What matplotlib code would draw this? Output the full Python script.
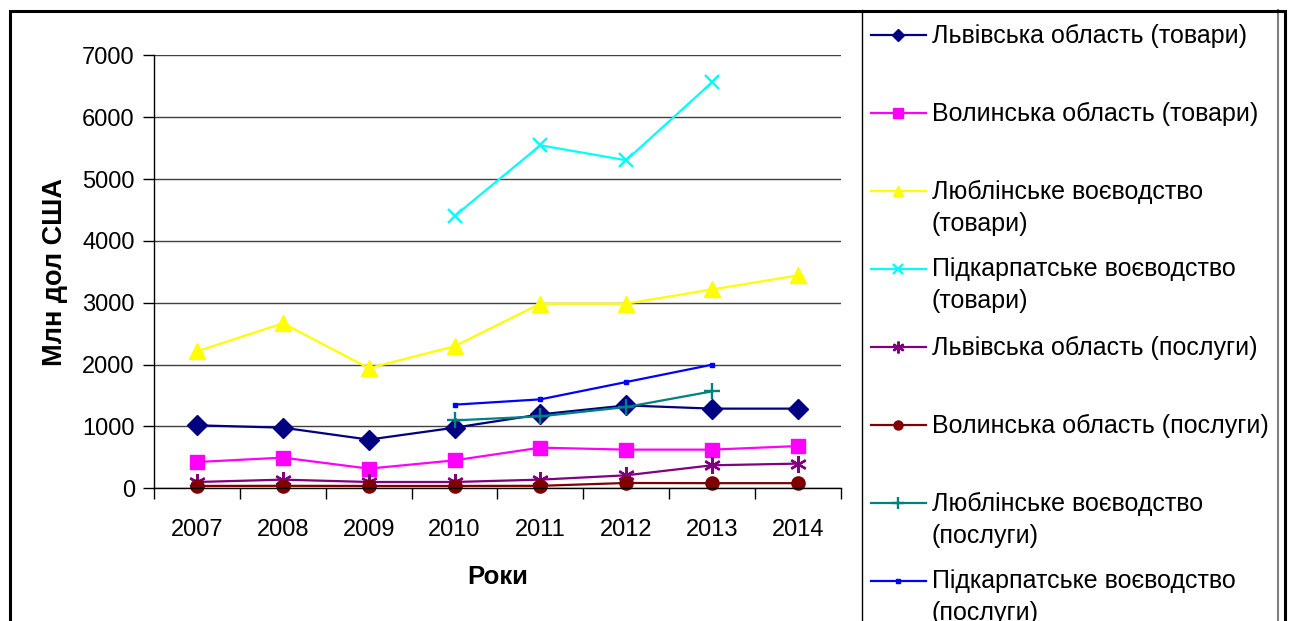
import matplotlib
matplotlib.use("Agg")
import matplotlib.pyplot as plt
from matplotlib.patches import Rectangle
from matplotlib.lines import Line2D
import numpy as np

plt.rcParams['font.family'] = ['Liberation Sans', 'DejaVu Sans']

nan = np.nan
years = ['2007', '2008', '2009', '2010', '2011', '2012', '2013', '2014']

# Млн дол США
lviv_goods = [1018, 980, 787, 980, 1195, 1340, 1288, 1288]
volyn_goods = [425, 496, 318, 452, 657, 625, 625, 683]
lublin_goods = [2215, 2668, 1942, 2297, 2985, 2985, 3215, 3441]
podkarp_goods = [nan, nan, nan, 4402, 5545, 5303, 6563, nan]
lviv_serv = [102, 140, 102, 102, 140, 210, 372, 399]
volyn_serv = [38, 40, 38, 38, 40, 86, 83, 83]
lublin_serv = [nan, nan, nan, 1098, 1163, 1314, 1567, nan]
podkarp_serv = [nan, nan, nan, 1352, 1438, 1718, 1998, nan]

# label, values, colour, marker, marker size in plot, in legend
series = [
    ('Львівська область (товари)', lviv_goods, '#000080', 'D', 10, 6.5),
    ('Волинська область (товари)', volyn_goods, '#FF00FF', 's', 9.5, 6.5),
    ('Люблінське воєводство\n(товари)', lublin_goods, '#FFFF00', '^', 11, 7.5),
    ('Підкарпатське воєводство\n(товари)', podkarp_goods, '#00FFFF', 'x', 10, 7.5),
    ('Львівська область (послуги)', lviv_serv, '#800080', (6, 2, 0), 12, 8.5),
    ('Волинська область (послуги)', volyn_serv, '#800000', 'o', 9.5, 6.5),
    ('Люблінське воєводство\n(послуги)', lublin_serv, '#008080', '+', 11, 8.5),
    ('Підкарпатське воєводство\n(послуги)', podkarp_serv, '#0000FF', 's', 3.5, 3.5),
]

W, H = 1290, 621
fig = plt.figure(figsize=(W / 100, H / 100), dpi=100)

def px_rect(x0, y0, x1, y1):
    # pixel box (top-left origin) -> figure fraction
    return [x0 / W, 1 - y1 / H, (x1 - x0) / W, (y1 - y0) / H]

def edge_w(marker):
    return 1.7 if marker in ('x', '+') or isinstance(marker, tuple) else 1

# outer frame
fig.patches.append(Rectangle((9.5 / W, -0.05), (1285 - 9.5) / W, 1.05 - 10.5 / H,
                             transform=fig.transFigure, fill=False,
                             edgecolor='black', linewidth=2.2))

ax = fig.add_axes(px_rect(154.3, 55.3, 840.7, 488.3))
x = np.arange(len(years))
for label, vals, color, marker, ms, lms in series:
    ax.plot(x, np.array(vals, dtype=float), color=color, marker=marker,
            markersize=ms, linewidth=1.6, markeredgewidth=edge_w(marker),
            markeredgecolor=color, markerfacecolor=color, clip_on=False)

ax.set_xlim(-0.5, len(years) - 0.5)
ax.set_ylim(0, 7000)
ax.set_yticks(np.arange(0, 7001, 1000))
ax.set_xticks(np.arange(-0.5, len(years), 1.0))
ax.set_xticklabels([])
ax.set_xticks(x, minor=True)
ax.set_xticklabels(years, minor=True)
ax.tick_params(axis='x', which='minor', length=0, pad=22, labelsize=17)
ax.tick_params(axis='x', which='major', length=8, width=1, direction='out')
ax.tick_params(axis='y', length=8, width=1, direction='out', pad=6, labelsize=17)
ax.yaxis.grid(True, color='#404040', linewidth=1)
ax.set_axisbelow(True)
for s in ('top', 'right'):
    ax.spines[s].set_visible(False)
for s in ('left', 'bottom'):
    ax.spines[s].set_linewidth(1)

ax.set_ylabel('Млн дол США', fontsize=19.5, fontweight='bold')
ax.yaxis.set_label_coords((55 - 154.3) / 686.4, 0.5)
ax.yaxis.label.set_va('center')
ax.set_xlabel('Роки', fontsize=18.5, fontweight='bold')
ax.xaxis.set_label_coords(0.5, (488.3 - 577) / 433)
ax.xaxis.label.set_va('center')

# legend panel
lax = fig.add_axes(px_rect(862, 10, 1279, H))
lax.set_xlim(862, 1279)
lax.set_ylim(H, 10)
lax.axis('off')
lax.plot([862, 862], [10, H + 5], color='black', linewidth=1, clip_on=False)
lax.plot([1278, 1278], [10, H + 5], color='#808080', linewidth=1.5, clip_on=False)
for i, (label, vals, color, marker, ms, lms) in enumerate(series):
    yc = 35.5 + 78.0 * i
    lax.add_line(Line2D([871, 926], [yc, yc], color=color, linewidth=1.6))
    lax.add_line(Line2D([898.5], [yc], color=color, marker=marker,
                        markersize=lms, markerfacecolor=color,
                        markeredgecolor=color, markeredgewidth=edge_w(marker)))
    lax.text(932, yc - 12, label, fontsize=18, va='top', ha='left',
             linespacing=1.42, clip_on=False)

fig.savefig('out.png', dpi=100)
